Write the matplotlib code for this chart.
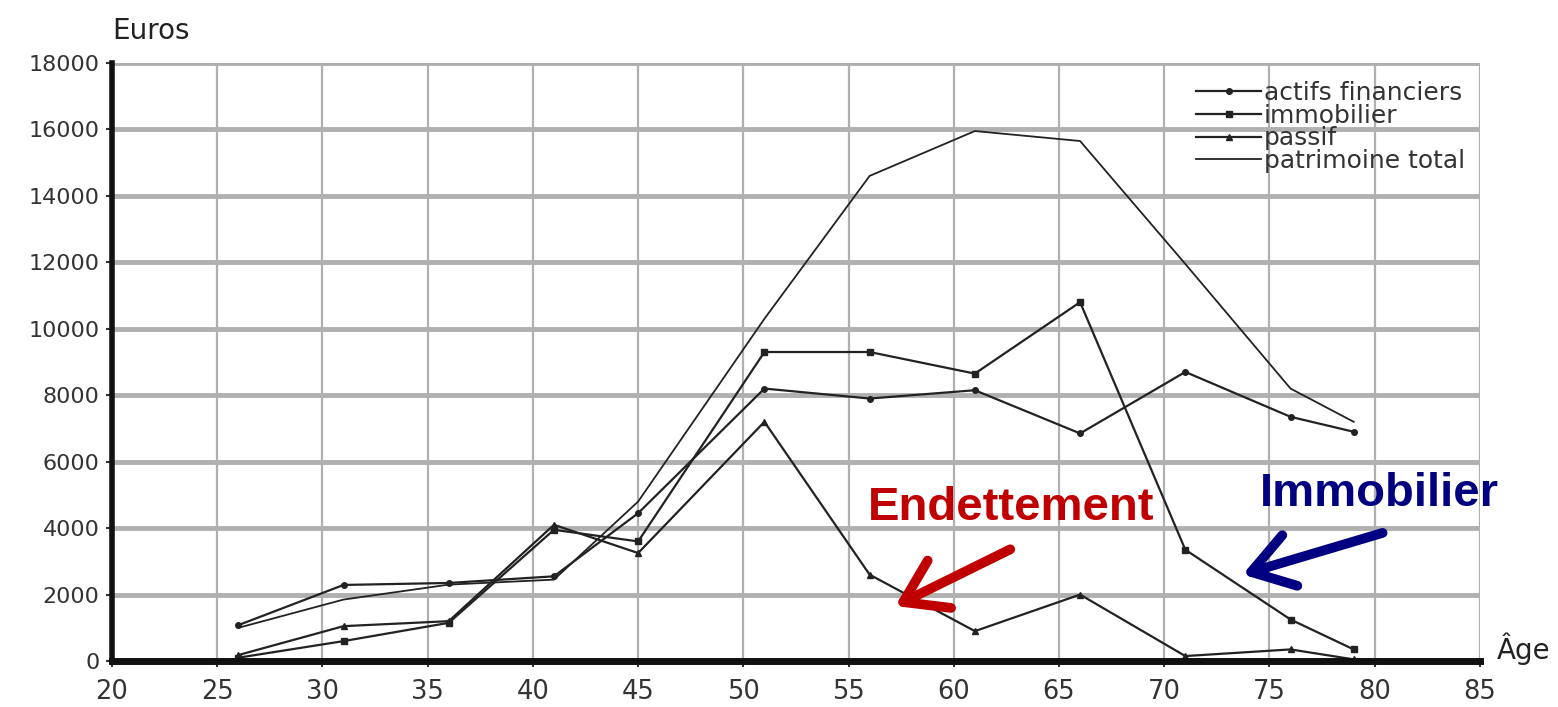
import numpy as np
import matplotlib.pyplot as plt

# age groups (x) and values in euros
ages = [26, 31, 36, 41, 45, 51, 56, 61, 66, 71, 76, 79]
actifs = [1080, 2290, 2350, 2550, 4450, 8200, 7900, 8150, 6850, 8700, 7350, 6900]
immobilier = [100, 600, 1150, 3950, 3600, 9300, 9300, 8650, 10800, 3350, 1250, 350]
passif = [180, 1050, 1200, 4100, 3250, 7200, 2600, 900, 2000, 150, 350, 50]
total = [1000, 1850, 2300, 2450, 4800, 10300, 14600, 15950, 15650, 11950, 8200, 7200]

xticks = list(range(20, 90, 5))
yticks = list(range(0, 20000, 2000))

plt.rcParams['font.family'] = ['DejaVu Sans']

fig = plt.figure(figsize=(15.58, 7.07), dpi=100)
ax = fig.add_axes([0.0719, 0.065, 0.878, 0.846])

lc = '#222222'
ax.plot(ages, actifs, color=lc, lw=1.6, marker='o', ms=4, label='actifs financiers')
ax.plot(ages, immobilier, color=lc, lw=1.6, marker='s', ms=5, label='immobilier')
ax.plot(ages, passif, color=lc, lw=1.6, marker='^', ms=5, label='passif')
ax.plot(ages, total, color=lc, lw=1.3, label='patrimoine total')

ax.set_xlim(20, 85)
ax.set_ylim(0, 18000)
ax.set_xticks(xticks)
ax.set_yticks(yticks)
ax.tick_params(colors='#333333', length=4, width=1.5)
ax.tick_params(axis='x', labelsize=18.5, pad=9)
ax.tick_params(axis='y', labelsize=16, pad=5)
ax.grid(axis='y', color='#b0b0b0', lw=3.5)
ax.grid(axis='x', color='#b0b0b0', lw=1.6)
ax.set_axisbelow(True)
for s in ['top', 'right']:
    ax.spines[s].set_visible(False)
ax.spines['left'].set_linewidth(4)
ax.spines['bottom'].set_linewidth(5)
ax.spines['left'].set_color('#111111')
ax.spines['bottom'].set_color('#111111')

fig.text(0.072, 0.945, 'Euros', fontsize=20, color='#222222')
fig.text(0.961, 0.068, 'Âge', fontsize=20, color='#222222')

leg = ax.legend(loc='upper right', bbox_to_anchor=(1.0, 0.995), frameon=False,
                fontsize=18, labelspacing=-0.05, handlelength=2.6,
                handletextpad=0.1, borderaxespad=0.2)
for t in leg.get_texts():
    t.set_color('#333333')

red = '#c00000'
navy = '#000080'
head = '->,head_length=1.45,head_width=0.95'
ax.text(62.7, 4620, 'Endettement', color=red, fontsize=34, fontweight='bold',
        ha='center', va='center', family='Liberation Sans')
ax.annotate('', xy=(57.1, 1620), xytext=(62.8, 3400),
            arrowprops=dict(arrowstyle=head, mutation_scale=20,
                            color=red, lw=7, capstyle='round', joinstyle='round'))
ax.text(80.2, 5020, 'Immobilier', color=navy, fontsize=34, fontweight='bold',
        ha='center', va='center', clip_on=False, family='Liberation Sans')
ax.annotate('', xy=(73.6, 2580), xytext=(80.5, 3880),
            arrowprops=dict(arrowstyle=head, mutation_scale=20,
                            color=navy, lw=7, capstyle='round', joinstyle='round'))

fig.savefig('out.png', dpi=100)
